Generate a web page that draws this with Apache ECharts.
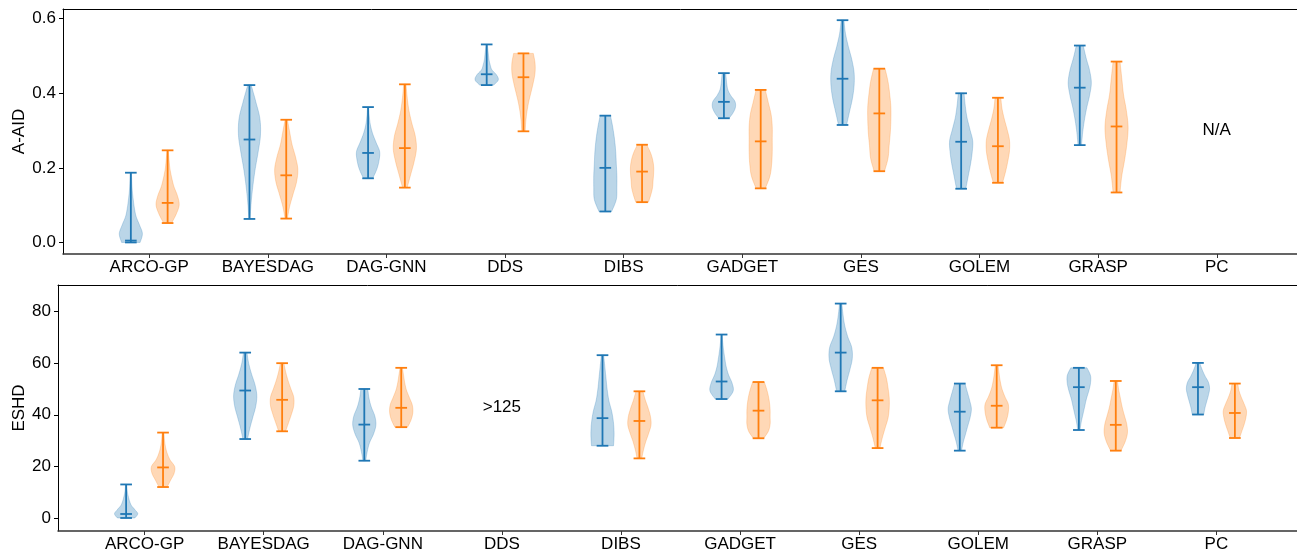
<!DOCTYPE html>
<html>
<head>
<meta charset="utf-8">
<script src="https://cdn.jsdelivr.net/npm/echarts@6/dist/echarts.min.js"></script>
<style>html,body{margin:0;padding:0;background:#fff;}#chart{width:1297px;height:553px;}</style>
</head>
<body>
<div id="chart"></div>
<script>
const categories = ['ARCO-GP','BAYESDAG','DAG-GNN','DDS','DIBS','GADGET','GES','GOLEM','GRASP','PC'];

// A-AID violins: [min, median, max] per method
const aaidBlue = [
  [0.000,0.005,0.187],[0.063,0.276,0.422],[0.172,0.240,0.363],[0.422,0.451,0.531],[0.083,0.200,0.340],
  [0.333,0.377,0.454],[0.315,0.439,0.596],[0.144,0.270,0.400],[0.261,0.415,0.528],null
];
const aaidOrange = [
  [0.052,0.106,0.247],[0.064,0.180,0.329],[0.147,0.253,0.424],[0.298,0.443,0.507],[0.108,0.190,0.262],
  [0.145,0.271,0.409],[0.191,0.346,0.466],[0.160,0.258,0.388],[0.134,0.311,0.485],null
];
// relative density profile from min (first) to max (last)
const aaidBlueShape = [
  [0.8,1.0,0.75,0.45,0.3,0.2,0.12,0.08,0.05],
  [0.05,0.15,0.3,0.5,0.75,0.95,0.9,0.55,0.15],
  [0.4,0.75,0.95,1.0,0.7,0.4,0.2,0.1,0.05],
  [0.6,1.0,0.85,0.45,0.3,0.2,0.15,0.1,0.05],
  [0.55,0.95,1.0,1.0,0.95,0.9,0.8,0.65,0.45],
  [0.45,0.8,1.0,0.95,0.6,0.35,0.25,0.2,0.15],
  [0.35,0.6,0.85,1.0,1.0,0.8,0.5,0.25,0.12],
  [0.4,0.6,0.8,0.95,1.0,0.75,0.5,0.35,0.25],
  [0.15,0.25,0.4,0.6,0.85,1.0,0.85,0.55,0.3],
  null
];
const aaidOrangeShape = [
  [0.35,0.75,1.0,0.85,0.55,0.35,0.2,0.12,0.05],
  [0.1,0.3,0.6,0.9,1.0,0.8,0.5,0.3,0.1],
  [0.2,0.5,0.8,1.0,0.9,0.6,0.35,0.2,0.1],
  [0.15,0.2,0.3,0.45,0.65,0.85,1.0,1.0,0.85],
  [0.55,0.75,0.9,0.95,1.0,1.0,0.9,0.7,0.4],
  [0.4,0.8,0.95,1.0,1.0,1.0,0.9,0.65,0.4],
  [0.45,0.75,0.85,0.95,1.0,1.0,0.9,0.75,0.5],
  [0.4,0.65,0.85,1.0,1.0,0.8,0.55,0.35,0.25],
  [0.3,0.45,0.7,0.9,1.0,0.85,0.6,0.45,0.3],
  null
];

// ESHD violins: [min, median, max] per method
const eshdBlue = [
  [0.0,1.55,13.0],[30.6,49.4,64.1],[22.2,36.2,50.0],null,[28.0,38.7,63.1],
  [46.1,52.9,71.1],[49.1,64.1,83.1],[26.1,41.2,52.1],[34.1,50.7,58.2],[40.1,50.7,60.1]
];
const eshdOrange = [
  [12.0,19.6,33.1],[33.6,45.8,60.0],[35.2,42.7,58.2],null,[23.1,37.6,49.1],
  [30.9,41.6,52.7],[27.1,45.6,58.2],[35.0,43.5,59.2],[26.1,36.1,53.1],[31.0,40.7,52.1]
];
const eshdBlueShape = [
  [0.75,1.0,0.75,0.45,0.3,0.2,0.12,0.08,0.05],
  [0.2,0.4,0.65,0.9,1.0,0.85,0.55,0.3,0.15],
  [0.12,0.25,0.45,0.8,1.0,0.9,0.6,0.4,0.3],
  null,
  [0.95,1.0,0.95,0.8,0.55,0.4,0.3,0.2,0.1],
  [0.55,1.0,0.9,0.6,0.4,0.28,0.18,0.1,0.05],
  [0.35,0.55,0.8,1.0,0.95,0.6,0.35,0.2,0.1],
  [0.15,0.3,0.5,0.7,0.9,1.0,0.85,0.65,0.45],
  [0.1,0.2,0.35,0.5,0.65,0.85,1.0,1.0,0.7],
  [0.5,0.6,0.75,0.9,1.0,0.9,0.6,0.35,0.15]
];
const eshdOrangeShape = [
  [0.35,0.65,0.95,1.0,0.6,0.35,0.2,0.12,0.08],
  [0.3,0.55,0.8,1.0,1.0,0.75,0.5,0.3,0.15],
  [0.55,0.85,1.0,0.95,0.7,0.45,0.3,0.2,0.1],
  null,
  [0.2,0.35,0.55,0.8,1.0,0.95,0.75,0.5,0.3],
  [0.45,0.85,1.0,1.0,1.0,0.95,0.85,0.7,0.5],
  [0.2,0.4,0.65,0.9,1.0,1.0,0.9,0.75,0.5],
  [0.6,0.85,1.0,1.0,0.7,0.45,0.3,0.2,0.12],
  [0.45,0.8,1.0,0.95,0.75,0.55,0.4,0.25,0.15],
  [0.4,0.6,0.8,0.95,1.0,0.8,0.55,0.35,0.25]
];

const aaidTicks = [0, 0.2, 0.4, 0.6];
const eshdTicks = [0, 20, 40, 60, 80];
const aaidNotes = [{cat: 'PC', text: 'N/A', value: 0.30}];
const eshdNotes = [{cat: 'DDS', text: '>125', value: 42.8}];

const BLUE = '#1f77b4', ORANGE = '#ff7f0e';
const BLUE_FILL = 'rgba(31,119,180,0.3)', ORANGE_FILL = 'rgba(255,127,14,0.3)';
const FONT = "'Liberation Sans', Arial, Helvetica, sans-serif";
const OFFSET = 0.155, HALF_W = 0.0975, CAP_W = 0.049;

function catmull(pts, steps) {
  const out = [];
  const n = pts.length;
  for (let i = 0; i < n - 1; i++) {
    const p0 = pts[Math.max(i - 1, 0)], p1 = pts[i], p2 = pts[i + 1], p3 = pts[Math.min(i + 2, n - 1)];
    for (let s = 0; s < steps; s++) {
      const t = s / steps, t2 = t * t, t3 = t2 * t;
      const f = (a, b, c, d) => 0.5 * ((2 * b) + (-a + c) * t + (2 * a - 5 * b + 4 * c - d) * t2 + (-a + 3 * b - 3 * c + d) * t3);
      out.push([Math.max(0, f(p0[0], p1[0], p2[0], p3[0])), f(p0[1], p1[1], p2[1], p3[1])]);
    }
  }
  out.push(pts[n - 1]);
  return out;
}

function buildData(stats, offset) {
  const d = [];
  stats.forEach((s, i) => { if (s) d.push([i + offset, s[0], s[1], s[2], i]); });
  return d;
}

function violinSeries(stats, shapes, offset, color, fill, xi, yi) {
  return {
    type: 'custom', xAxisIndex: xi, yAxisIndex: yi,
    data: buildData(stats, offset),
    renderItem: function (params, api) {
      const x = api.value(0), lo = api.value(1), med = api.value(2), hi = api.value(3);
      const shape = shapes[api.value(4)];
      const pLo = api.coord([x, lo]), pHi = api.coord([x, hi]), pMed = api.coord([x, med]);
      const cx = pLo[0];
      const hw = api.size([HALF_W, 0])[0];
      const cw = api.size([CAP_W, 0])[0];
      const n = shape.length;
      const pts = shape.map((w, i) => [hw * w, pLo[1] + (pHi[1] - pLo[1]) * i / (n - 1)]);
      const sm = catmull(pts, 8);
      const poly = sm.map(p => [cx + p[0], p[1]]).concat(sm.slice().reverse().map(p => [cx - p[0], p[1]]));
      const ls = {stroke: color, lineWidth: 1.8};
      return {
        type: 'group',
        children: [
          {type: 'polygon', shape: {points: poly}, style: {fill: fill, stroke: fill, lineWidth: 0.8}},
          {type: 'line', shape: {x1: cx, y1: pLo[1], x2: cx, y2: pHi[1]}, style: ls},
          {type: 'line', shape: {x1: cx - cw, y1: pLo[1], x2: cx + cw, y2: pLo[1]}, style: ls},
          {type: 'line', shape: {x1: cx - cw, y1: pHi[1], x2: cx + cw, y2: pHi[1]}, style: ls},
          {type: 'line', shape: {x1: cx - cw, y1: pMed[1], x2: cx + cw, y2: pMed[1]}, style: ls}
        ]
      };
    }
  };
}

function noteSeries(notes, xi, yi) {
  return {
    type: 'custom', xAxisIndex: xi, yAxisIndex: yi,
    data: notes.map(n => [categories.indexOf(n.cat), n.value]),
    renderItem: function (params, api) {
      const p = api.coord([api.value(0), api.value(1)]);
      return {type: 'text', x: p[0], y: p[1],
        style: {text: notes[params.dataIndex].text, fill: '#000', font: '17px ' + FONT, align: 'center', verticalAlign: 'middle'}};
    }
  };
}

function bottomX(gi) {
  return {
    type: 'value', gridIndex: gi, position: 'bottom', min: -0.727, max: 9.727,
    axisLine: {show: true, onZero: false, lineStyle: {color: '#333', width: 1.5}},
    axisTick: {show: true, length: 4, customValues: categories.map((c, i) => i), lineStyle: {color: '#333', width: 1}},
    axisLabel: {show: true, customValues: categories.map((c, i) => i), formatter: v => categories[Math.round(v)],
      color: '#000', fontSize: 17, fontFamily: FONT, margin: 5},
    splitLine: {show: false}
  };
}
function topX(gi) {
  return {
    type: 'value', gridIndex: gi, position: 'top', min: -0.727, max: 9.727,
    axisLine: {show: true, onZero: false, lineStyle: {color: '#000', width: 1}},
    axisTick: {show: false}, axisLabel: {show: false}, splitLine: {show: false}
  };
}
function yAx(gi, min, max, ticks, fmt, name, gap) {
  return {
    type: 'value', gridIndex: gi, min: min, max: max,
    name: name, nameLocation: 'middle', nameGap: gap, nameRotate: 90, nameMoveOverlap: false,
    nameTextStyle: {color: '#000', fontSize: 17, fontFamily: FONT},
    axisLine: {show: true, onZero: false, lineStyle: {color: '#000', width: 1}},
    axisTick: {show: true, length: 4, customValues: ticks, lineStyle: {color: '#000', width: 1}},
    axisLabel: {show: true, customValues: ticks, formatter: fmt, color: '#000', fontSize: 17, fontFamily: FONT, margin: 7},
    splitLine: {show: false}
  };
}

const chart = echarts.init(document.getElementById('chart'), null, {renderer: 'canvas'});
chart.setOption({
  animation: false,
  backgroundColor: '#fff',
  grid: [
    {left: 63, top: 9, width: 1240, height: 245, containLabel: false, outerBoundsMode: 'none'},
    {left: 58, top: 285, width: 1245, height: 246, containLabel: false, outerBoundsMode: 'none'}
  ],
  xAxis: [bottomX(0), topX(0), bottomX(1), topX(1)],
  yAxis: [
    yAx(0, -0.031, 0.626, aaidTicks, v => v.toFixed(1), 'A-AID', 35),
    yAx(1, -5.04, 90.3, eshdTicks, v => String(Math.round(v)), 'ESHD', 30)
  ],
  series: [
    violinSeries(aaidBlue, aaidBlueShape, -OFFSET, BLUE, BLUE_FILL, 0, 0),
    violinSeries(aaidOrange, aaidOrangeShape, OFFSET, ORANGE, ORANGE_FILL, 0, 0),
    violinSeries(eshdBlue, eshdBlueShape, -OFFSET, BLUE, BLUE_FILL, 2, 1),
    violinSeries(eshdOrange, eshdOrangeShape, OFFSET, ORANGE, ORANGE_FILL, 2, 1),
    noteSeries(aaidNotes, 0, 0),
    noteSeries(eshdNotes, 2, 1)
  ]
});
</script>
</body>
</html>
